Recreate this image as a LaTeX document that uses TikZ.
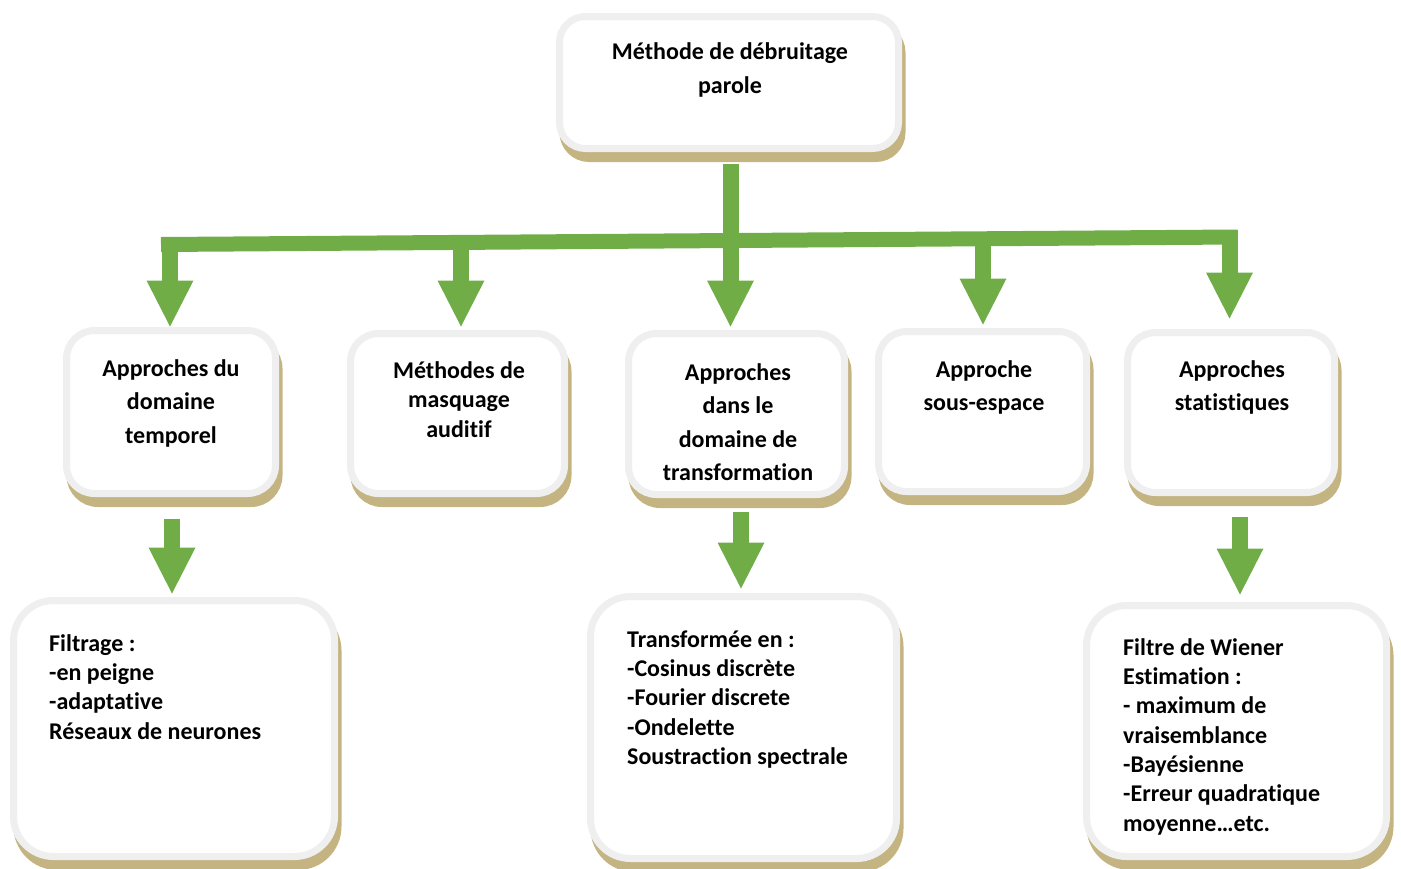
\documentclass[tikz,border=0pt]{standalone}
\usepackage{fontspec}
\setmainfont{Carlito}[Ligatures=CommonOff]
\usetikzlibrary{calc}

\definecolor{leafgreen}{RGB}{112,173,71}
\definecolor{rimgray}{RGB}{239,239,239}
\definecolor{shadetan}{RGB}{196,180,130}

\newcommand\capstrut{\rule{0pt}{24pt}}

\tikzset{
  card/.style={draw=rimgray, line width=7pt, fill=white, rounded corners=28pt,
    inner sep=0pt,
    preaction={draw=shadetan, fill=shadetan,
      transform canvas={shift={(3.5pt,-10pt)}}}},
  bigcard/.style={card, rounded corners=40pt},
  caption/.style={font=\fontsize{24}{33.5}\selectfont\bfseries, align=center,
    inner sep=0pt, anchor=north},
  notes/.style={font=\fontsize{24}{29.3}\selectfont\bfseries, align=left,
    inner sep=0pt, anchor=north west},
  greenstem/.style={draw=leafgreen, line width=16pt},
  greenhead/.style={fill=leafgreen},
}

% thick stem from the level of #1 down to the tip #2, closed by a wide triangle
\newcommand\fatarrow[2]{%
  \draw[greenstem] (#2 |- #1) -- ($(#2)+(0,-44)$);
  \fill[greenhead] ($(#2)+(-23.5,-46)$) -- ($(#2)+(23.5,-46)$) -- (#2) -- cycle;}

\begin{document}
\begin{tikzpicture}[x=1pt,y=-1pt]
\useasboundingbox (0,0) rectangle (1401,868);

% ---- boxes ----
\node[card, rounded corners=26pt, minimum width=339pt, minimum height=132pt] (top) at (729,82.5) {};
\node[card, minimum width=209pt, minimum height=163pt] (b1) at (171,412) {};
\node[card, minimum width=214pt, minimum height=160pt] (b2) at (457.5,413.5) {};
\node[card, minimum width=216pt, minimum height=161pt] (b3) at (736.5,414) {};
\node[card, minimum width=208pt, minimum height=160pt] (b4) at (982.5,411.5) {};
\node[card, minimum width=207pt, minimum height=160pt] (b5) at (1231,412.5) {};
\node[bigcard, minimum width=321pt, minimum height=256pt] (l1) at (174,728.5) {};
\node[bigcard, minimum width=306pt, minimum height=262pt] (l3) at (743.5,727.5) {};
\node[bigcard, minimum width=300pt, minimum height=251pt] (l5) at (1236.5,731) {};

% ---- texts ----
\node[caption] (topt) at (730,35.5) {\capstrut Méthode de débruitage\\parole};
\node[caption] (b1t) at (171,352) {\capstrut Approches du\\domaine\\temporel};
\node[caption, font=\fontsize{24}{29.5}\selectfont\bfseries] (b2t) at (459,354)
  {\capstrut Méthodes de\\masquage\\auditif};
\node[caption] (b3t) at (738,356) {\capstrut Approches\\dans le\\domaine de\\transformation};
\node[caption] (b4t) at (984,353) {\capstrut Approche\\sous-espace};
\node[caption] (b5t) at (1232,353) {\capstrut Approches\\statistiques};

\node[notes] (l1t) at (49,627)
  {\capstrut Filtrage :\\-en peigne\\-adaptative\\Réseaux de neurones};
\node[notes] (l3t) at (627,623)
  {\capstrut Transformée en :\\-Cosinus discrète\\-Fourier discrete\\-Ondelette\\Soustraction spectrale};
\node[notes] (l5t) at (1123,631)
  {\capstrut Filtre de Wiener\\Estimation :\\- maximum de\\vraisemblance\\-Bayésienne\\-Erreur quadratique\\moyenne…etc.};

% ---- distribution bar ----
\coordinate (barL) at (161,244.5);
\coordinate (barR) at (1237.5,237);
\coordinate (j1) at (170,237.5);
\coordinate (j2) at (461,241);
\coordinate (j3) at (730.5,240);
\coordinate (j4) at (983,239);
\coordinate (j5) at (1229.5,229.5);
\draw[greenstem, line width=15pt] (barL) -- (barR);

\coordinate (s0) at ($(top.south)+(1.5,11.5)$);
\draw[greenstem] (s0) -- (s0 |- j3);

% ---- arrows into the second row ----
\coordinate (t1) at ($(b1.north)+(-1,-0.5)$);
\coordinate (t2) at ($(b2.north)+(3.5,-3.5)$);
\coordinate (t3) at ($(b3.north)+(-6,-3.5)$);
\coordinate (t4) at ($(b4.north)+(0.5,-3.5)$);
\coordinate (t5) at ($(b5.north)+(-1.5,-10.5)$);
\fatarrow{j1}{t1}
\fatarrow{j2}{t2}
\fatarrow{j3}{t3}
\fatarrow{j4}{t4}
\fatarrow{j5}{t5}

% ---- arrows into the third row ----
\coordinate (s1) at ($(b1.south)+(1,21.5)$);
\coordinate (s3) at ($(b3.south)+(4.5,14)$);
\coordinate (s5) at ($(b5.south)+(9,20.5)$);
\coordinate (d1) at ($(l1.north)+(-2,-3.5)$);
\coordinate (d3) at ($(l3.north)+(-2.5,-4.5)$);
\coordinate (d5) at ($(l5.north)+(3.5,-7.5)$);
\fatarrow{s1}{d1}
\fatarrow{s3}{d3}
\fatarrow{s5}{d5}
\end{tikzpicture}
\end{document}
